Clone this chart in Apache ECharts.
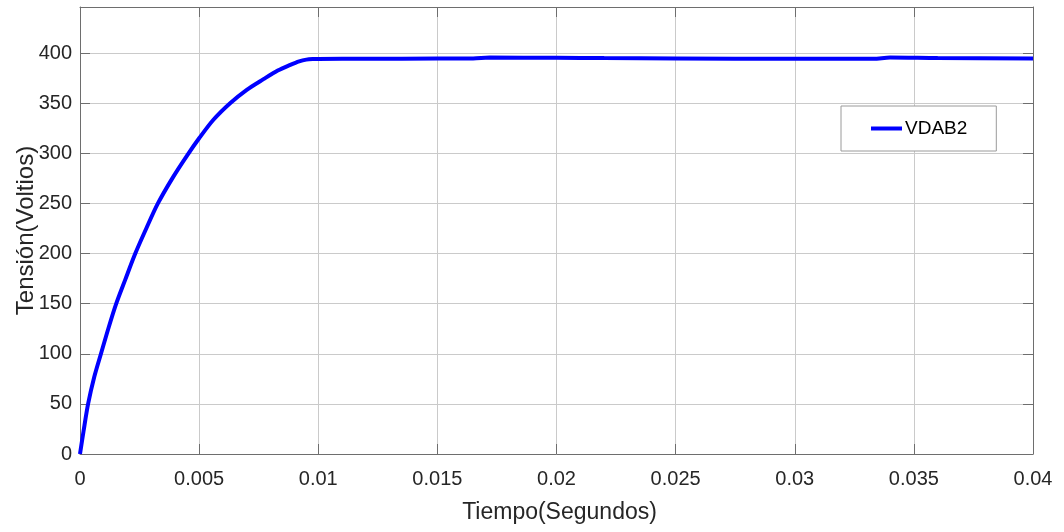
<!DOCTYPE html>
<html>
<head>
<meta charset="utf-8">
<script src="https://cdn.jsdelivr.net/npm/echarts@6/dist/echarts.min.js"></script>
<style>
	html, body { margin: 0; padding: 0; background: #fff; }
	#chart { width: 1064px; height: 532px; }
</style>
</head>
<body>
<div id="chart"></div>
<script>
// time in seconds, voltage in volts
const times = [
	0, 0.00015, 0.00034, 0.0006, 0.00088, 0.0012, 0.00152, 0.0019, 0.00232, 0.0028,
	0.00327, 0.0039, 0.0045, 0.0050, 0.0056, 0.0063, 0.0070, 0.0077, 0.0083, 0.0088,
	0.0092, 0.0095, 0.0098, 0.0100, 0.0120, 0.0150, 0.0165, 0.0172, 0.0200, 0.0220,
	0.0250, 0.0300, 0.0333, 0.0340, 0.0360, 0.0400
];
const voltages = [
	0, 23, 50, 77, 100, 126, 150, 174, 200, 226,
	250, 276, 298, 315, 333.5, 350, 363.4, 374, 382.6, 388,
	391.8, 393.5, 394.1, 394.2, 394.4, 394.5, 394.6, 395.5, 395.4, 395,
	394.7, 394.3, 394.3, 395.6, 395, 394.6
];
const seriesName = 'VDAB2';
const xTicks = { min: 0, max: 0.04, interval: 0.005 };
const yTicks = { min: 0, max: 446, interval: 50 };

const fontFamily = '"Liberation Sans", Arial, Helvetica, sans-serif';
const textColor = '#262626';
const boxColor = '#6e6e6e';

const points = times.map( ( t, i ) => [ t, voltages[ i ] ] );

const tickStyle = { show: true, inside: true, length: 10, lineStyle: { color: boxColor } };

const chart = echarts.init( document.getElementById( 'chart' ) );
chart.setOption( {
	animation: false,
	backgroundColor: '#fff',
	grid: { left: 80, top: 7, right: 31, bottom: 78, containLabel: false, outerBoundsMode: 'none' },
	legend: {
		left: 841,
		top: 106,
		padding: [ 13, 29, 13, 30 ],
		itemWidth: 31,
		itemHeight: 4,
		itemGap: 0,
		icon: 'rect',
		backgroundColor: '#fff',
		borderColor: '#9a9a9a',
		borderWidth: 1,
		borderRadius: 0,
		textStyle: { fontFamily, fontSize: 19, color: '#000', padding: [ 0, 0, 0, -2 ] },
		data: [ seriesName ]
	},
	xAxis: [
		{
			type: 'value',
			min: xTicks.min,
			max: xTicks.max,
			interval: xTicks.interval,
			name: 'Tiempo(Segundos)',
			nameLocation: 'middle',
			nameGap: 47,
			nameMoveOverlap: false,
			nameTextStyle: { fontFamily, fontSize: 23, color: textColor, padding: [ 0, 0, 0, 6 ] },
			axisLine: { show: true, lineStyle: { color: boxColor } },
			axisTick: tickStyle,
			axisLabel: {
				fontFamily, fontSize: 20, color: textColor, margin: 15,
				formatter: ( v ) => String( +v.toFixed( 3 ) )
			},
			splitLine: { show: true, lineStyle: { color: '#cacaca' } }
		},
		{
			type: 'value',
			position: 'top',
			min: xTicks.min,
			max: xTicks.max,
			interval: xTicks.interval,
			axisLine: { show: true, onZero: false, lineStyle: { color: boxColor } },
			axisTick: tickStyle,
			axisLabel: { show: false },
			splitLine: { show: false }
		}
	],
	yAxis: [
		{
			type: 'value',
			min: yTicks.min,
			max: yTicks.max,
			interval: yTicks.interval,
			name: 'Tensión(Voltios)',
			nameLocation: 'middle',
			nameGap: 42,
			nameMoveOverlap: false,
			nameTextStyle: { fontFamily, fontSize: 24, color: textColor },
			axisLine: { show: true, lineStyle: { color: boxColor } },
			axisTick: tickStyle,
			axisLabel: {
				fontFamily, fontSize: 20, color: textColor, margin: 8,
				showMaxLabel: false
			},
			splitLine: { show: true, lineStyle: { color: '#cacaca' } }
		},
		{
			type: 'value',
			position: 'right',
			min: yTicks.min,
			max: yTicks.max,
			interval: yTicks.interval,
			axisLine: { show: true, onZero: false, lineStyle: { color: boxColor } },
			axisTick: tickStyle,
			axisLabel: { show: false },
			splitLine: { show: false }
		}
	],
	series: [
		{
			name: seriesName,
			type: 'line',
			data: points,
			showSymbol: false,
			symbol: 'none',
			smooth: 0.3,
			itemStyle: { color: '#0000ff' },
			lineStyle: { color: '#0000ff', width: 4 }
		}
	]
} );
</script>
</body>
</html>
